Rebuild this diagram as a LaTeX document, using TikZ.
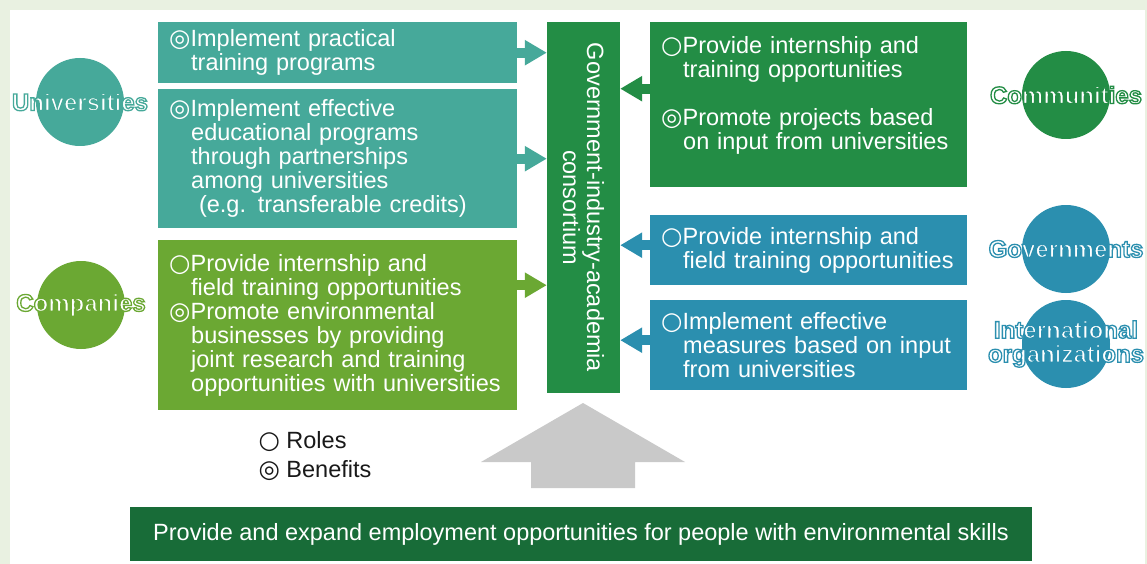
\documentclass[tikz,border=0pt]{standalone}
\usepackage{fontspec}
\setmainfont{Liberation Sans}
\newfontfamily\symf{DejaVu Sans}
\usetikzlibrary{positioning,arrows.meta}
\tikzset{>=latex}

\definecolor{bgGreen}{HTML}{E9F1E1}
\definecolor{uniTeal}{HTML}{46A99A}
\definecolor{compGreen}{HTML}{6BA833}
\definecolor{consGreen}{HTML}{238D45}
\definecolor{govBlue}{HTML}{2B8FAF}
\definecolor{baseGreen}{HTML}{186C38}
\definecolor{arrowGray}{HTML}{C9C9C9}

\newcommand{\roleMark}{\smash{\symf\fontsize{24.5}{24}\selectfont ○}}
\newcommand{\benefitMark}{\smash{\symf\fontsize{24.5}{24}\selectfont ◎}}
\newcommand{\contIndent}{\hspace*{22pt}}
% white letters with a coloured outline (fill + stroke)
\newcommand{\outlined}[2]{\special{pdf:literal direct #1 RG 2 Tr 1.3 w}#2\special{pdf:literal direct 0 Tr}}

\tikzset{
  box/.style={rectangle,anchor=north west,text=white,align=left,inner xsep=11pt,inner ysep=0pt},
  circ/.style={circle,minimum size=88pt,inner sep=0pt},
  circlab/.style={text=white,align=center,font=\bfseries\fontsize{24}{24}\selectfont},
  arr/.style={line width=10pt,-{Triangle[length=22pt,width=24pt]}}
}

\begin{document}
\begin{tikzpicture}[x=1pt,y=-1pt,every node/.style={font=\fontsize{23.5}{24}\selectfont}]
\useasboundingbox (0,0) rectangle (1147,564);
\fill[bgGreen] (0,0) rectangle (1147,564);
\fill[white] (10,10) rectangle (1145,564);

% actors
\node[circ,fill=uniTeal,label={[circlab]center:\outlined{0.275 0.663 0.604}{Universities}}] (univ) at (80,102) {};
\node[circ,fill=compGreen,label={[circlab]center:\outlined{0.42 0.66 0.2}{Companies}}] (compc) at (81,305) {};
\node[circ,fill=consGreen,label={[circlab]center:\outlined{0.137 0.553 0.27}{Communities}}] (commc) at (1066,95) {};
\node[circ,fill=govBlue,label={[circlab]center:\outlined{0.169 0.561 0.686}{Governments}}] (govc) at (1066,249) {};
\node[circ,fill=govBlue,label={[circlab]center:{\outlined{0.169 0.561 0.686}{International}\\\outlined{0.169 0.561 0.686}{organizations}}}] (intlc) at (1066,344) {};

% roles and benefits
\node[box,fill=uniTeal,text width=337pt,minimum height=61pt] (uA) at (158,22)
  {\benefitMark Implement practical\\\contIndent training programs};
\node[box,fill=uniTeal,text width=337pt,minimum height=139pt] (uB) at (158,89)
  {\benefitMark Implement effective\\\contIndent educational programs\\\contIndent through partnerships\\\contIndent among universities\\\contIndent\ (e.g. transferable credits)};
\node[box,fill=compGreen,text width=337pt,minimum height=170pt] (comp) at (158,240)
  {\roleMark Provide internship and\\\contIndent field training opportunities\\\benefitMark Promote environmental\\\contIndent businesses by providing\\\contIndent joint research and training\\\contIndent opportunities with universities};
\node[box,fill=consGreen,text width=295pt,minimum height=165pt] (comm) at (650,22)
  {\roleMark Provide internship and\\\contIndent training opportunities\\[24pt]\benefitMark Promote projects based\\\contIndent on input from universities\\\mbox{}};
\node[box,fill=govBlue,text width=295pt,minimum height=70pt] (gov) at (650,215)
  {\roleMark Provide internship and\\\contIndent field training opportunities};
\node[box,fill=govBlue,text width=295pt,minimum height=90pt] (intl) at (650,300)
  {\roleMark Implement effective\\\contIndent measures based on input\\\contIndent from universities};

% consortium
\node[fill=consGreen,minimum width=73pt,minimum height=371pt,inner sep=0pt] (cons) at (583.5,207.5) {};
\node[rotate=-90,text=white,align=center] (consText) at (cons) {Government-industry-academia\\consortium};

\draw[arr,uniTeal] (uA.east) -- (uA.east -| cons.west);
\draw[arr,uniTeal] (uB.east) -- (uB.east -| cons.west);
\draw[arr,compGreen] ([yshift=40pt]comp.east) -- ([yshift=40pt]comp.east -| cons.west);
\draw[arr,consGreen] ([yshift=16pt]comm.west) -- ([yshift=16pt]comm.west -| cons.east);
\draw[arr,govBlue] ([yshift=5pt]gov.west) -- ([yshift=5pt]gov.west -| cons.east);
\draw[arr,govBlue] ([yshift=5pt]intl.west) -- ([yshift=5pt]intl.west -| cons.east);

% legend
\node[anchor=west,text=black!90] (roles) at (255,440) {\roleMark\ Roles};
\node[anchor=west,text=black!90] (benefits) at (255,469) {\benefitMark\ Benefits};

% goal
\fill[arrowGray] (531,488) -- (531,462) -- (481,462) -- (583,403) -- (685,462) -- (635,462) -- (635,488) -- cycle;
\node[fill=baseGreen,text=white,minimum width=902pt,minimum height=54pt] (goal) at (581,534)
  {Provide and expand employment opportunities for people with environmental skills};
\end{tikzpicture}
\end{document}
